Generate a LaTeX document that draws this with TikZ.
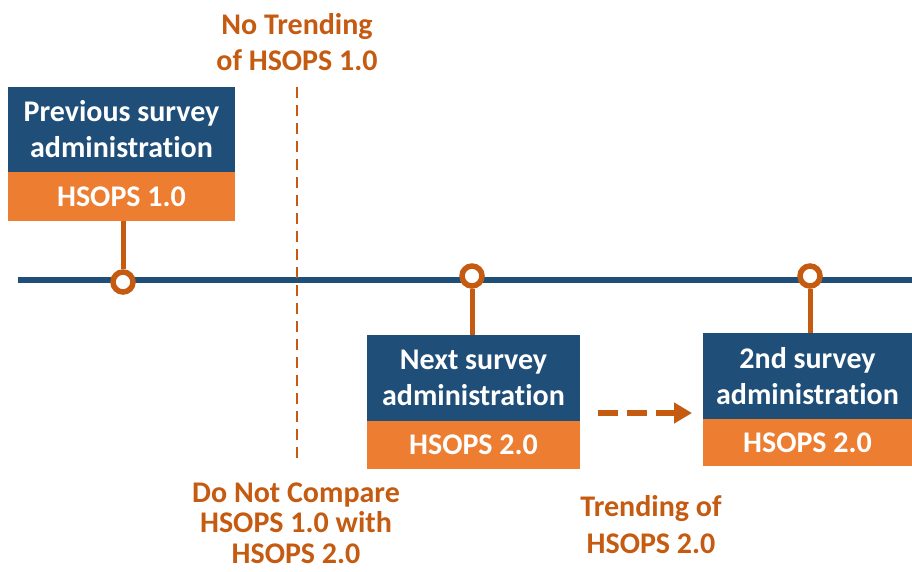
\documentclass[tikz,border=0pt]{standalone}
\usepackage{fontspec}
\setmainfont{Carlito}[Ligatures=NoCommon]
\usetikzlibrary{arrows.meta,calc}
\definecolor{dblue}{HTML}{1F4E79}
\definecolor{obox}{HTML}{ED7D31}
\definecolor{otext}{HTML}{C55A11}
\tikzset{
  bluebox/.style={fill=dblue,text=white,font=\bfseries\fontsize{30}{36}\selectfont,align=center,inner sep=0pt},
  orangebox/.style={fill=obox,text=white,font=\bfseries\fontsize{30}{36}\selectfont,align=center,inner sep=0pt},
  marker/.style={circle,draw=otext,line width=5.5pt,fill=white,minimum size=20pt,inner sep=0pt},
  stem/.style={draw=otext,line width=5pt},
  note/.style={text=otext,font=\bfseries\fontsize{30}{36}\selectfont,align=center,inner sep=0pt},
}
\begin{document}
\begin{tikzpicture}[x=1pt,y=-1pt]
\useasboundingbox (0,0) rectangle (912,571);
% timeline
\coordinate (tl) at (18,280);
\coordinate (tr) at (912,280);
\draw[dblue,line width=6pt] (tl) -- (tr);
% dashed divider
\coordinate (dtop) at (297,87);
\coordinate (dbot) at (297,465);
\draw[otext,line width=2.5pt,dash pattern=on 11pt off 7pt] (dtop) -- (dbot);
% boxes
\node[bluebox,minimum width=227pt,minimum height=85pt] (b1) at (121.5,129.5) {Previous survey\\administration};
\node[orangebox,minimum width=227pt,minimum height=49pt] (o1) at (121.5,196.5) {HSOPS 1.0};
\node[bluebox,minimum width=213pt,minimum height=86pt] (b2) at (473.5,378) {Next survey\\administration};
\node[orangebox,minimum width=213pt,minimum height=48pt] (o2) at (473.5,445) {HSOPS 2.0};
\node[bluebox,minimum width=209pt,minimum height=86pt] (b3) at (807.5,376) {2nd survey\\administration};
\node[orangebox,minimum width=209pt,minimum height=47pt] (o3) at (807.5,442.5) {HSOPS 2.0};
% stems and markers
\node[marker] (c1) at (123,282) {};
\node[marker] (c2) at (472,276) {};
\node[marker] (c3) at (810,276) {};
\draw[stem] (c1.north) -- (c1.north |- o1.south);
\draw[stem] (c2.south) -- (c2.south |- b2.north);
\draw[stem] (c3.south) -- (c3.south |- b3.north);
% dashed arrow
\coordinate (a1) at (598,413);
\coordinate (a2) at (692,413);
\draw[otext,line width=6pt,dash pattern=on 20pt off 9pt,-{Triangle[length=18pt,width=20pt]}] (a1) -- (a2);
% notes
\node[note] (n1) at (297,42) {No Trending\\of HSOPS 1.0};
\node[note,font=\bfseries\fontsize{30}{30.5}\selectfont] (n2) at (296,523) {Do Not Compare\\HSOPS 1.0 with\\HSOPS 2.0};
\node[note,font=\bfseries\fontsize{30}{37}\selectfont] (n3) at (651,524.5) {Trending of\\HSOPS 2.0};
\end{tikzpicture}
\end{document}
